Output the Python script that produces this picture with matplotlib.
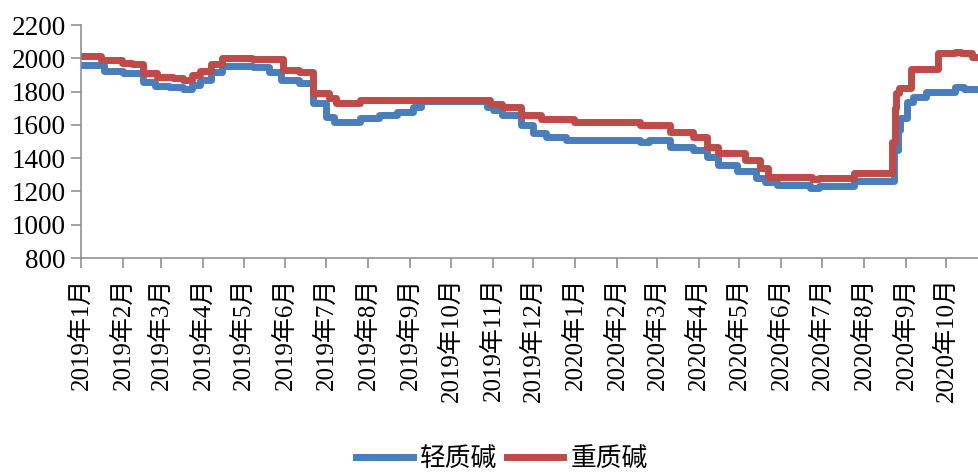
import pandas as pd
import matplotlib
matplotlib.use("Agg")
import matplotlib.pyplot as plt

# --------------------------------------------------
# 1. Data (step changes in price, yuan/t)
# --------------------------------------------------

light_dates = [
    "2019-01-01", "2019-01-18", "2019-02-01", "2019-02-16", "2019-02-25",
    "2019-03-07", "2019-03-17", "2019-03-24", "2019-03-30", "2019-04-07",
    "2019-04-15", "2019-05-08", "2019-05-20", "2019-05-29", "2019-06-11",
    "2019-06-21", "2019-07-01", "2019-07-07", "2019-07-26", "2019-08-09",
    "2019-08-22", "2019-09-03", "2019-09-09", "2019-10-28", "2019-11-01",
    "2019-11-08", "2019-11-22", "2019-12-01", "2019-12-10", "2019-12-25",
    "2020-02-18", "2020-02-24", "2020-03-11", "2020-03-28", "2020-04-07",
    "2020-04-15", "2020-04-29", "2020-05-13", "2020-05-20", "2020-05-29",
    "2020-06-22", "2020-06-29", "2020-07-25", "2020-08-23", "2020-08-26",
    "2020-08-28", "2020-09-02", "2020-09-06", "2020-09-16", "2020-10-07",
    "2020-10-14", "2020-10-25",
]
light_values = [
    1960, 1925, 1910, 1860, 1835,
    1825, 1815, 1840, 1870, 1920,
    1955, 1950, 1920, 1870, 1850,
    1730, 1650, 1620, 1640, 1660,
    1680, 1710, 1745, 1710, 1690,
    1660, 1600, 1550, 1525, 1510,
    1495, 1510, 1470, 1450, 1410,
    1360, 1320, 1280, 1255, 1240,
    1220, 1230, 1265, 1450, 1570,
    1640, 1740, 1770, 1800, 1830,
    1815, 1815,
]

heavy_dates = [
    "2019-01-01", "2019-01-16", "2019-01-31", "2019-02-08", "2019-02-16",
    "2019-02-26", "2019-03-10", "2019-03-17", "2019-03-24", "2019-03-30",
    "2019-04-07", "2019-04-15", "2019-05-07", "2019-05-30", "2019-06-11",
    "2019-06-21", "2019-07-03", "2019-07-08", "2019-07-26", "2019-10-30",
    "2019-11-08", "2019-11-22", "2019-12-07", "2019-12-31", "2020-02-18",
    "2020-03-11", "2020-03-28", "2020-04-07", "2020-04-15", "2020-05-05",
    "2020-05-16", "2020-05-22", "2020-06-24", "2020-06-29", "2020-07-25",
    "2020-08-22", "2020-08-24", "2020-08-25", "2020-08-27", "2020-09-05",
    "2020-09-25", "2020-10-07", "2020-10-12", "2020-10-20", "2020-10-25",
]
heavy_values = [
    2015, 1990, 1975, 1965, 1910,
    1890, 1880, 1870, 1900, 1925,
    1965, 2000, 1995, 1930, 1920,
    1790, 1760, 1730, 1750, 1725,
    1705, 1660, 1635, 1615, 1600,
    1555, 1530, 1470, 1430, 1390,
    1340, 1285, 1275, 1280, 1310,
    1500, 1700, 1790, 1820, 1935,
    2030, 2040, 2030, 2010, 2010,
]

tick_dates = [
    "2019-01-01", "2019-02-01", "2019-03-01", "2019-04-01", "2019-05-01",
    "2019-06-01", "2019-07-01", "2019-08-01", "2019-09-01", "2019-10-01",
    "2019-11-01", "2019-12-01", "2020-01-01", "2020-02-01", "2020-03-01",
    "2020-04-01", "2020-05-01", "2020-06-01", "2020-07-01", "2020-08-01",
    "2020-09-01", "2020-10-01",
]
tick_labels = [
    "2019年1月", "2019年2月", "2019年3月", "2019年4月", "2019年5月",
    "2019年6月", "2019年7月", "2019年8月", "2019年9月", "2019年10月",
    "2019年11月", "2019年12月", "2020年1月", "2020年2月", "2020年3月",
    "2020年4月", "2020年5月", "2020年6月", "2020年7月", "2020年8月",
    "2020年9月", "2020年10月",
]

# --------------------------------------------------
# 2. Plot
# --------------------------------------------------

plt.rcParams["font.family"] = ["Liberation Serif", "Noto Sans CJK SC"]

fig = plt.figure(figsize=(9.79, 4.73), dpi=100)
ax = fig.add_axes([0.0827, 0.4545, 0.9173, 0.4925])

ax.plot(pd.to_datetime(light_dates), light_values, drawstyle="steps-post",
        color="#4A7EBB", lw=5, label="轻质碱")
ax.plot(pd.to_datetime(heavy_dates), heavy_values, drawstyle="steps-post",
        color="#BE4B48", lw=5, label="重质碱")

ax.set_ylim(800, 2200)
ax.set_yticks(range(800, 2201, 200))
ax.set_xlim(pd.Timestamp("2019-01-01"), pd.Timestamp("2020-10-25"))
ax.set_xticks(pd.to_datetime(tick_dates))
ax.set_xticklabels(tick_labels, rotation=90)

for side in ["top", "right"]:
    ax.spines[side].set_visible(False)
for side in ["left", "bottom"]:
    ax.spines[side].set_color("#888888")
    ax.spines[side].set_linewidth(1.1)

ax.tick_params(axis="y", labelsize=19.5, length=7, width=1.1, color="#888888", pad=4)
ax.tick_params(axis="x", labelsize=18, length=7, width=1.1, color="#888888", pad=7)

fig.legend(loc="center", bbox_to_anchor=(0.513, 0.03), ncol=2, frameon=False,
           fontsize=18.5, handlelength=2.2, handletextpad=0.3, columnspacing=0.35)

plt.savefig("out.png", dpi=100)
